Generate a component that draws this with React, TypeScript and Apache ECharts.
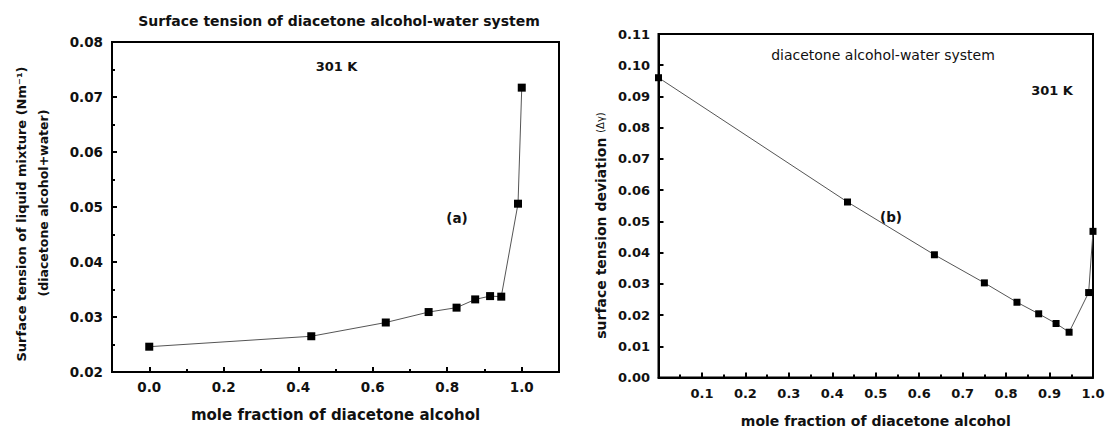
import React, { useEffect, useRef } from "react";
import * as echarts from "echarts";

// ---- data ----
const moleFraction = [0, 0.435, 0.635, 0.75, 0.825, 0.875, 0.915, 0.945, 0.99, 1.0];
const surfaceTension = [0.0246, 0.0265, 0.029, 0.0309, 0.0317, 0.0332, 0.0338, 0.0337, 0.0506, 0.0717];
const tensionDeviation = [0.096, 0.0562, 0.0393, 0.0303, 0.0241, 0.0204, 0.0173, 0.0145, 0.0272, 0.0468];

const xMajorTicksA = [0, 0.2, 0.4, 0.6, 0.8, 1.0];
const xMinorTicksA = [0.1, 0.3, 0.5, 0.7, 0.9];

const titleA = "Surface tension of diacetone alcohol-water system";
const titleB = "diacetone alcohol-water system";
const tempLabel = "301 K";
const xName = "mole fraction of diacetone alcohol";
const yNameA1 = "Surface tension of liquid mixture (Nm\u207B\u00B9)";
const yNameA2 = "(diacetone alcohol+water)";
const yNameB = "surface tension deviation";
const yNameBSym = "(\u0394\u03B3)";

const FONT = "DejaVu Sans";
const INK = "#111";

export default function App() {
  const ref = useRef<HTMLDivElement>(null);

  useEffect(() => {
    if (!ref.current) return;
    const chart = echarts.init(ref.current, null, { renderer: "svg" });

    const lbl = (size: number, margin: number) => ({
      fontSize: size,
      fontWeight: "bold",
      fontFamily: FONT,
      color: INK,
      margin,
    });
    const axisLine = { show: true, onZero: false, lineStyle: { color: "#000", width: 2 } };
    const majorTick = { show: true, inside: true, length: 5, lineStyle: { color: "#000", width: 2 } };

    const option: any = {
      animation: false,
      backgroundColor: "#fff",
      grid: [
        { left: 112, top: 42, width: 447, height: 330, outerBoundsMode: "none", containLabel: false, show: true, borderColor: "#000", borderWidth: 2, backgroundColor: "transparent" },
        { left: 658.5, top: 34, width: 434.5, height: 343.5, outerBoundsMode: "none", containLabel: false, show: true, borderColor: "#000", borderWidth: 2, backgroundColor: "transparent" },
      ],
      xAxis: [
        {
          gridIndex: 0,
          type: "value",
          min: -0.1,
          max: 1.1,
          interval: 0.1,
          axisLine,
          axisTick: { ...majorTick, customValues: xMajorTicksA },
          axisLabel: { ...lbl(13.5, 8), customValues: xMajorTicksA, formatter: (v: number) => v.toFixed(1) },
          splitLine: { show: false },
          name: xName,
          nameLocation: "middle",
          nameGap: 35,
          nameTextStyle: { fontSize: 15, fontWeight: "bold", fontFamily: FONT, color: INK },
        },
        {
          gridIndex: 0,
          type: "value",
          position: "bottom",
          min: -0.1,
          max: 1.1,
          interval: 0.1,
          axisLine: { show: false },
          axisTick: { show: true, inside: true, length: 3, lineStyle: { color: "#000", width: 2 }, customValues: xMinorTicksA },
          axisLabel: { show: false },
          splitLine: { show: false },
        },
        {
          gridIndex: 1,
          type: "value",
          min: 0,
          max: 1,
          interval: 0.1,
          axisLine,
          axisTick: majorTick,
          minorTick: { show: true, splitNumber: 2, length: 3, lineStyle: { color: "#000", width: 2 } },
          axisLabel: { ...lbl(13, 9), formatter: (v: number) => (v === 0 ? "" : v.toFixed(1)) },
          splitLine: { show: false },
          minorSplitLine: { show: false },
          name: xName,
          nameLocation: "middle",
          nameGap: 36,
          nameTextStyle: { fontSize: 14, fontWeight: "bold", fontFamily: FONT, color: INK },
        },
      ],
      yAxis: [
        {
          gridIndex: 0,
          type: "value",
          min: 0.02,
          max: 0.08,
          interval: 0.01,
          axisLine,
          axisTick: majorTick,
          minorTick: { show: true, splitNumber: 2, length: 3, lineStyle: { color: "#000", width: 2 } },
          axisLabel: { ...lbl(13.5, 9), formatter: (v: number) => v.toFixed(2) },
          splitLine: { show: false },
          minorSplitLine: { show: false },
        },
        {
          gridIndex: 1,
          type: "value",
          min: 0,
          max: 0.11,
          interval: 0.01,
          axisLine,
          axisTick: majorTick,
          axisLabel: { ...lbl(13, 8.5), formatter: (v: number) => v.toFixed(2) },
          splitLine: { show: false },
        },
      ],
      series: [
        {
          type: "line",
          xAxisIndex: 0,
          yAxisIndex: 0,
          data: moleFraction.map((x, i) => [x, surfaceTension[i]]),
          symbol: "rect",
          symbolSize: 8,
          itemStyle: { color: "#000" },
          lineStyle: { color: "#555", width: 1 },
        },
        {
          type: "line",
          xAxisIndex: 2,
          yAxisIndex: 1,
          data: moleFraction.map((x, i) => [x, tensionDeviation[i]]),
          symbol: "rect",
          symbolSize: 7,
          itemStyle: { color: "#000" },
          lineStyle: { color: "#555", width: 1 },
        },
      ],
      graphic: [
        { type: "text", x: 339, y: 21, style: { text: titleA, fontSize: 14, fontWeight: "bold", fontFamily: FONT, fill: INK, align: "center", verticalAlign: "middle" } },
        { type: "text", x: 336.5, y: 66, style: { text: tempLabel, fontSize: 13, fontWeight: "bold", fontFamily: FONT, fill: INK, align: "center", verticalAlign: "middle" } },
        { type: "text", x: 457, y: 218, style: { text: "(a)", fontSize: 13.5, fontWeight: "bold", fontFamily: FONT, fill: INK, align: "center", verticalAlign: "middle" } },
        { type: "text", x: 21.7, y: 214, rotation: Math.PI / 2, style: { text: yNameA1, fontSize: 13, fontWeight: "bold", fontFamily: FONT, fill: INK, align: "center", verticalAlign: "middle" } },
        { type: "text", x: 43.3, y: 203, rotation: Math.PI / 2, style: { text: yNameA2, fontSize: 12.5, fontWeight: "bold", fontFamily: FONT, fill: INK, align: "center", verticalAlign: "middle" } },
        { type: "text", x: 883, y: 55, style: { text: titleB, fontSize: 14, fontWeight: "normal", fontFamily: FONT, fill: INK, align: "center", verticalAlign: "middle" } },
        { type: "text", x: 1052, y: 90, style: { text: tempLabel, fontSize: 13, fontWeight: "bold", fontFamily: FONT, fill: INK, align: "center", verticalAlign: "middle" } },
        { type: "text", x: 891, y: 217, style: { text: "(b)", fontSize: 13.5, fontWeight: "bold", fontFamily: FONT, fill: INK, align: "center", verticalAlign: "middle" } },
        {
          type: "text",
          x: 600.5,
          y: 225.5,
          rotation: Math.PI / 2,
          style: {
            text: "{a|" + yNameB + " }{b|" + yNameBSym + "}",
            align: "center",
            verticalAlign: "middle",
            fill: INK,
            rich: {
              a: { fontSize: 14, fontWeight: "bold", fontFamily: FONT, fill: INK, color: INK },
              b: { fontSize: 10, fontWeight: "normal", fontFamily: FONT, fill: INK, color: INK },
            },
          },
        },
      ],
    };

    chart.setOption(option);
    return () => chart.dispose();
  }, []);

  return (
    <div
      ref={ref}
      style={{ position: "absolute", left: 0, top: 0, width: 1107, height: 430, background: "#fff" }}
    />
  );
}
